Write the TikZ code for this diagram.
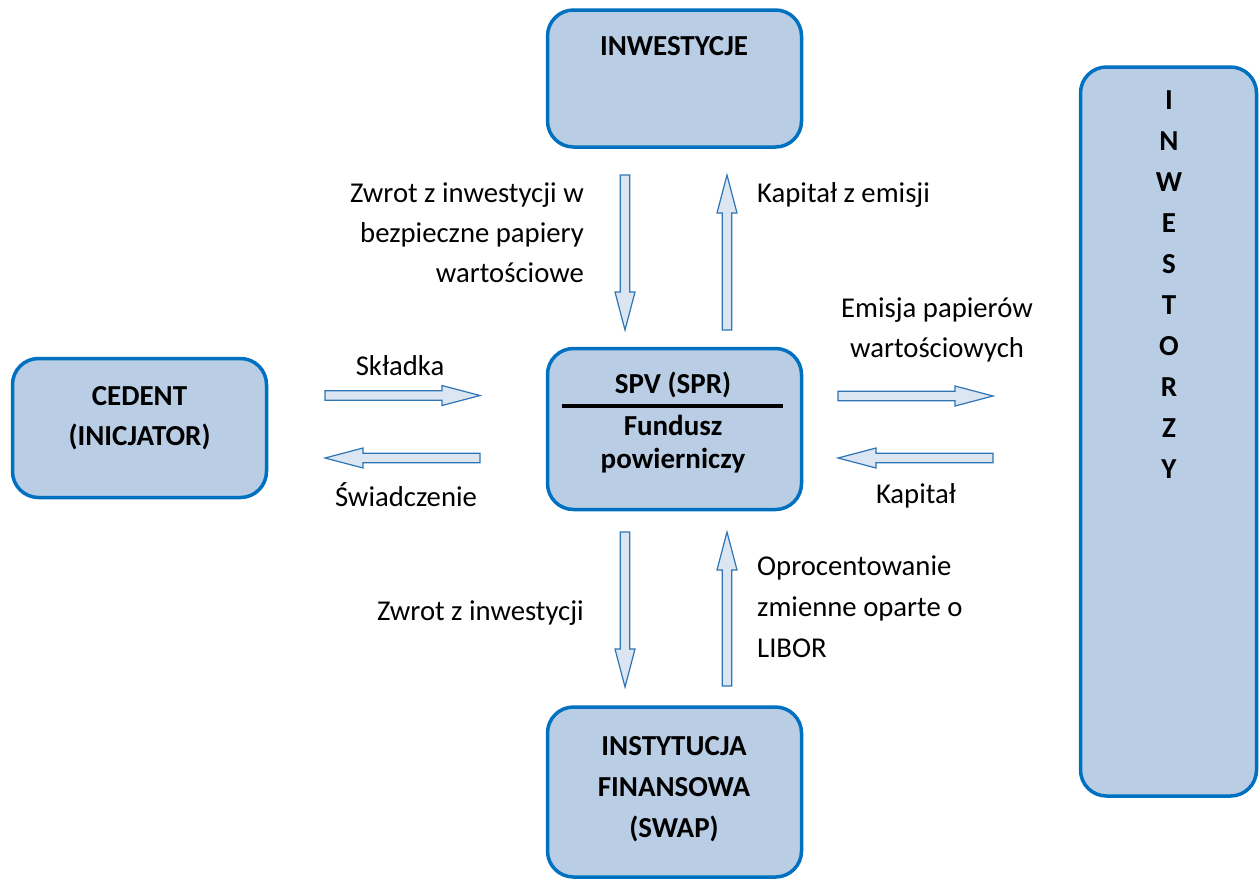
\documentclass[tikz,border=0pt]{standalone}
\usepackage{fontspec}
\setmainfont{Carlito}
\definecolor{boxfill}{HTML}{B9CDE5}
\definecolor{boxdraw}{HTML}{0070C0}
\definecolor{arrfill}{HTML}{DCE6F2}
\definecolor{arrdraw}{HTML}{2E75B6}
\begin{document}
\begin{tikzpicture}[x=1pt,y=-1pt,
  box/.style={draw=boxdraw,fill=boxfill,line width=3.5pt,rounded corners=26pt,inner sep=0pt},
  lbl/.style={font=\fontsize{28.7}{40}\selectfont,inner sep=0pt},
  blbl/.style={font=\fontsize{29}{41}\selectfont\bfseries,inner sep=0pt,align=center},
  pics/barrow/.style={code={
    \draw[draw=arrdraw,fill=arrfill,line width=1.2pt,line join=miter]
      (0,-4.8) -- ({#1-38},-4.8) -- ({#1-38},-10) -- (#1,0) -- ({#1-38},10) -- ({#1-38},4.8) -- (0,4.8) -- cycle;}}
]
\useasboundingbox (0,0) rectangle (1260,879);

% boxes
\node[box,minimum width=254pt,minimum height=137pt] (inw) at (674.5,78.5) {};
\node[box,minimum width=254pt,minimum height=139pt] (ced) at (139.5,428) {};
\node[box,minimum width=254pt,minimum height=161pt] (spv) at (674.5,429) {};
\node[box,minimum width=254pt,minimum height=170pt] (ins) at (674.5,792) {};
\node[box,minimum width=176pt,minimum height=729pt] (invr) at (1168.5,431.5) {};

% box texts (base anchor = last line baseline)
\node[blbl,anchor=base] (tinw) at (674,55) {INWESTYCJE};
\node[blbl,anchor=base,font=\fontsize{29}{40}\selectfont\bfseries] (tced) at (139.5,445) {CEDENT\\(INICJATOR)};
\node[blbl,anchor=base] (tspv) at (673,393) {SPV (SPR)};
\draw[line width=3.5pt] (562,406) -- (783,406);
\node[blbl,anchor=base,font=\fontsize{29}{33}\selectfont\bfseries] (tfun) at (673,468) {Fundusz\\powierniczy};
\node[blbl,anchor=base] (tins) at (674,837) {INSTYTUCJA\\FINANSOWA\\(SWAP)};
\node[blbl,anchor=base] (tinvr) at (1169,478) {I\\N\\W\\E\\S\\T\\O\\R\\Z\\Y};

% block arrows
\pic[rotate=-90] at (625,175) {barrow=155};
\pic[rotate=90] at (727,330) {barrow=155};
\pic at (325,395.5) {barrow=155};
\pic[rotate=180] at (480,458) {barrow=155};
\pic at (838,396) {barrow=155};
\pic[rotate=180] at (993,458) {barrow=155};
\pic[rotate=-90] at (625,532) {barrow=155};
\pic[rotate=90] at (727,686) {barrow=154};

% labels
\node[lbl,align=right,anchor=base east] (l1) at (584,282) {Zwrot z inwestycji w\\bezpieczne papiery\\wartościowe};
\node[lbl,anchor=base west] (l2) at (757,202) {Kapitał z emisji};
\node[lbl,align=center,anchor=base] (l3) at (937,357) {Emisja papierów\\wartościowych};
\node[lbl,anchor=base] (l4) at (400,375) {Składka};
\node[lbl,anchor=base] (l5) at (406,506) {Świadczenie};
\node[lbl,anchor=base] (l6) at (916,503) {Kapitał};
\node[lbl,anchor=base east] (l7) at (584,620) {Zwrot z inwestycji};
\node[lbl,align=left,anchor=base west,font=\fontsize{28.7}{41}\selectfont] (l8) at (757,657) {Oprocentowanie\\zmienne oparte o\\LIBOR};
\end{tikzpicture}
\end{document}
